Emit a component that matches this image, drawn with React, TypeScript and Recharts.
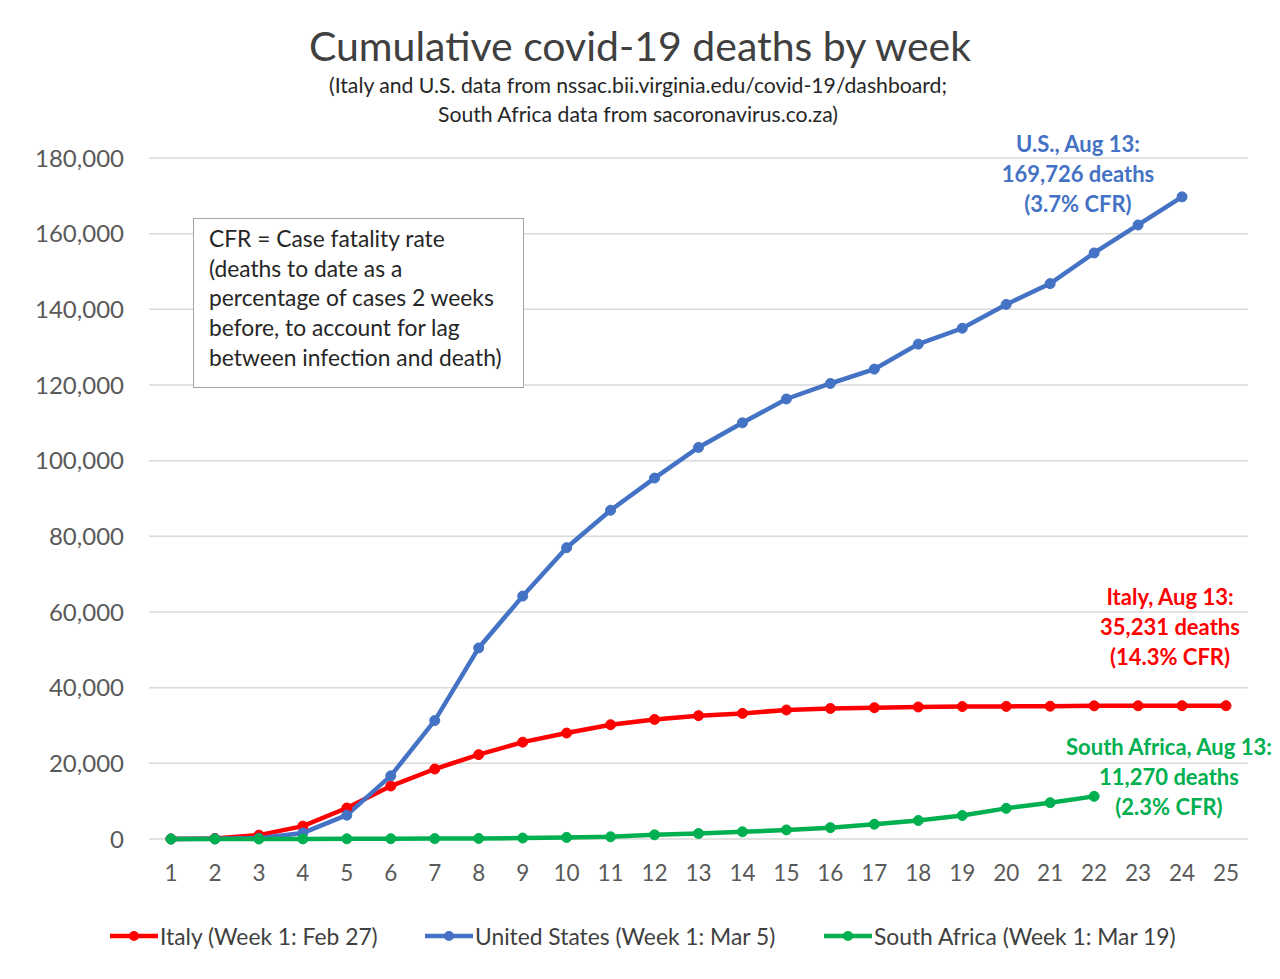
import React from "react";
import { LineChart, Line, XAxis, YAxis, CartesianGrid } from "recharts";

// Week numbers (x axis)
const weeks = [
  "1", "2", "3", "4", "5", "6", "7", "8", "9", "10", "11", "12", "13",
  "14", "15", "16", "17", "18", "19", "20", "21", "22", "23", "24", "25",
];

// Cumulative deaths
const italy = [
  20, 150, 1020, 3400, 8200, 14000, 18500, 22300, 25600, 28000, 30200, 31600,
  32600, 33200, 34100, 34500, 34700, 34900, 35000, 35050, 35100, 35200, 35220,
  35230, 35231,
];
const unitedStates = [
  10, 40, 200, 1600, 6300, 16700, 31300, 50500, 64200, 77000, 86900, 95400,
  103500, 110000, 116300, 120400, 124200, 130800, 135000, 141300, 146800,
  154900, 162300, 169726, null,
];
const southAfrica = [
  0, 0, 10, 20, 50, 80, 100, 150, 250, 420, 580, 1100, 1450, 1900, 2400, 3000,
  3900, 4900, 6200, 8100, 9600, 11270, null, null, null,
];

const yTicks = [0, 20000, 40000, 60000, 80000, 100000, 120000, 140000, 160000, 180000];

const RED = "#FF0000";
const BLUE = "#4472C4";
const GREEN = "#00B050";
const FONT = "Lato, 'Open Sans', sans-serif";

const data = weeks.map((w, i) => ({
  week: w,
  italy: italy[i],
  us: unitedStates[i],
  sa: southAfrica[i],
}));

const legendItems = [
  { label: "Italy (Week 1: Feb 27)", color: RED, left: 101 },
  { label: "United States (Week 1: Mar 5)", color: BLUE, left: 416 },
  { label: "South Africa (Week 1: Mar 19)", color: GREEN, left: 815 },
];

const boxLines = [
  "CFR = Case fatality rate",
  "(deaths to date as a",
  "percentage of cases 2 weeks",
  "before, to account for lag",
  "between infection and death)",
];

function Callout({ lines, color, cx, top }: { lines: string[]; color: string; cx: number; top: number }) {
  return (
    <div
      style={{
        position: "absolute",
        left: cx - 150,
        width: 300,
        top,
        textAlign: "center",
        color,
        fontWeight: 700,
        fontSize: 22,
        lineHeight: "30px",
        whiteSpace: "nowrap",
      }}
    >
      {lines.map((l) => (
        <div key={l}>{l}</div>
      ))}
    </div>
  );
}

export default function App() {
  const fmt = (v: number) => v.toLocaleString("en-US");
  return (
    <div style={{ position: "relative", width: 1264, height: 963, fontFamily: FONT, background: "#fff", overflow: "hidden" }}>
      <div
        style={{
          position: "absolute",
          top: 13,
          left: 0,
          width: 1264,
          textAlign: "center",
          fontSize: 41,
          color: "#404040",
        }}
      >
        Cumulative covid-19 deaths by week
      </div>
      <div
        style={{
          position: "absolute",
          top: 63,
          left: 0,
          width: 1260,
          textAlign: "center",
          fontSize: 21.2,
          lineHeight: "29px",
          color: "#262626",
        }}
      >
        <div>(Italy and U.S. data from nssac.bii.virginia.edu/covid-19/dashboard;</div>
        <div>South Africa data from sacoronavirus.co.za)</div>
      </div>

      <LineChart
        width={1264}
        height={963}
        data={data}
        margin={{ top: 150, right: 24, bottom: 92, left: 0 }}
        style={{ position: "absolute", top: 0, left: 0 }}
      >
        <CartesianGrid vertical={false} stroke="#d9d9d9" strokeWidth={1.5} />
        <XAxis
          dataKey="week"
          axisLine={false}
          tickLine={false}
          tickSize={0}
          tickMargin={26}
          height={40}
          padding={{ left: 22, right: 22 }}
          interval={0}
          tick={{ fill: "#595959", fontSize: 22.5, fontFamily: FONT }}
        />
        <YAxis
          domain={[0, 180000]}
          ticks={yTicks}
          axisLine={false}
          tickLine={false}
          tickSize={0}
          tickMargin={25}
          width={141}
          tickFormatter={fmt}
          tick={{ fill: "#595959", fontSize: 24, fontFamily: FONT }}
        />
        <Line
          dataKey="italy"
          stroke={RED}
          strokeWidth={4.5}
          dot={{ r: 5, fill: RED, stroke: RED, strokeWidth: 1 }}
          isAnimationActive={false}
        />
        <Line
          dataKey="us"
          stroke={BLUE}
          strokeWidth={4.5}
          dot={{ r: 5, fill: BLUE, stroke: BLUE, strokeWidth: 1 }}
          isAnimationActive={false}
        />
        <Line
          dataKey="sa"
          stroke={GREEN}
          strokeWidth={4.5}
          dot={{ r: 5, fill: GREEN, stroke: GREEN, strokeWidth: 1 }}
          isAnimationActive={false}
        />
      </LineChart>

      <div
        style={{
          position: "absolute",
          left: 185,
          top: 210,
          width: 331,
          height: 170,
          border: "1.5px solid #a6a6a6",
          background: "#fff",
          boxSizing: "border-box",
          padding: "5px 0 0 15px",
          fontSize: 22.8,
          lineHeight: "29.7px",
          color: "#262626",
          whiteSpace: "nowrap",
        }}
      >
        {boxLines.map((l) => (
          <div key={l}>{l}</div>
        ))}
      </div>

      <Callout lines={["U.S., Aug 13:", "169,726 deaths", "(3.7% CFR)"]} color={BLUE} cx={1070} top={121} />
      <Callout lines={["Italy, Aug 13:", "35,231 deaths", "(14.3% CFR)"]} color={RED} cx={1162} top={574} />
      <Callout lines={["South Africa, Aug 13:", "11,270 deaths", "(2.3% CFR)"]} color={GREEN} cx={1161} top={724} />

      {legendItems.map((it) => (
        <div
          key={it.label}
          style={{
            position: "absolute",
            left: it.left,
            top: 913,
            height: 30,
            display: "flex",
            alignItems: "center",
            fontSize: 22.8,
            color: "#404040",
            whiteSpace: "nowrap",
          }}
        >
          <svg width={50} height={14} style={{ marginRight: 1 }}>
            <line x1={1} y1={7} x2={49} y2={7} stroke={it.color} strokeWidth={4.5} />
            <circle cx={25} cy={7} r={5} fill={it.color} />
          </svg>
          {it.label}
        </div>
      ))}
    </div>
  );
}
